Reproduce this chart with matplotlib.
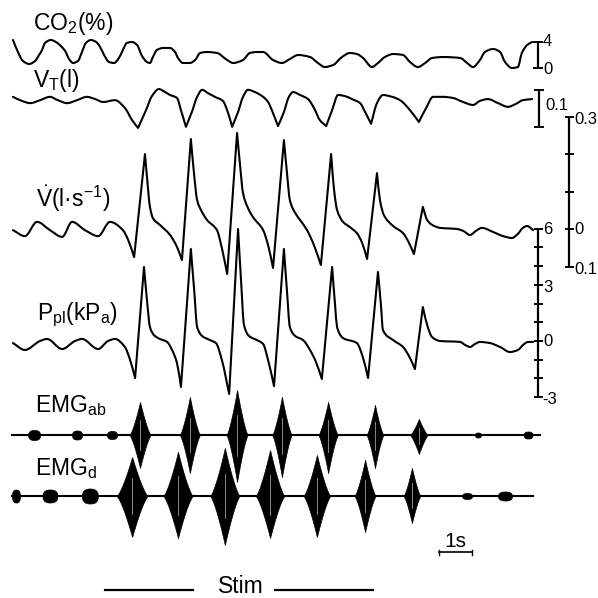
import matplotlib
matplotlib.use('Agg')
import matplotlib.pyplot as plt
from matplotlib.path import Path
from matplotlib.patches import PathPatch
import numpy as np

plt.rcParams['font.family'] = ['Liberation Sans', 'DejaVu Sans']
plt.rcParams['mathtext.fontset'] = 'custom'
plt.rcParams['mathtext.rm'] = 'Liberation Sans'
plt.rcParams['mathtext.it'] = 'Liberation Sans:italic'

# ---- data (time in s) ----
co2_t = [0.03, 0.18, 0.33, 0.52, 0.70, 0.82, 0.91, 1.00, 1.18, 1.33, 1.48, 1.61, 1.73, 1.85,
         2.00, 2.12, 2.24, 2.39, 2.55, 2.67, 2.79, 2.94, 3.09, 3.24, 3.36, 3.48, 3.64, 3.79,
         3.94, 4.09, 4.18, 4.27, 4.39, 4.58, 4.79, 4.94, 5.03, 5.18, 5.39, 5.55, 5.70, 5.91,
         6.21, 6.52, 6.70, 7.00, 7.21, 7.42, 7.61, 7.91, 8.18, 8.42, 8.67, 9.03,
         9.27, 9.48, 9.73, 10.00, 10.24, 10.45, 10.64, 10.91, 11.09, 11.30, 11.55, 11.85,
         12.06, 12.30, 12.52, 12.73, 13.06, 13.58, 13.79, 13.97, 14.18, 14.33, 14.58, 14.79,
         14.94, 15.15, 15.33, 15.45, 15.61, 15.76]
co2_pct = [4.31, 2.46, 1.08, 0.62, 1.08, 2.00, 2.77, 3.85, 4.31, 4.00, 3.38, 2.62, 1.38, 0.77,
           1.08, 2.46, 3.85, 4.31, 4.00, 3.23, 2.00, 0.92, 0.77, 1.54, 2.77, 3.85, 4.00, 3.54,
           1.85, 0.92, 0.77, 1.69, 2.77, 3.08, 3.08, 2.46, 1.54, 0.77, 0.77, 1.23, 2.31, 2.46,
           2.31, 1.23, 0.77, 1.23, 2.31, 2.46, 2.46, 1.23, 0.77, 1.38, 2.00, 1.69,
           0.77, 0.15, 0.46, 1.69, 2.31, 2.15, 1.54, 0.15, 0.77, 1.69, 2.15, 2.00,
           0.92, 0.15, 0.77, 1.54, 1.69, 1.54, 0.77, 0.15, 1.23, 2.46, 2.92, 2.46,
           0.92, 0.00, 0.15, 2.31, 3.54, 4.00]

vt_t = [0.03, 0.30, 0.55, 0.85, 1.15, 1.39, 1.67, 1.97, 2.27, 2.52, 2.76, 3.12, 3.42, 3.64,
        3.82, 4.06, 4.24, 4.45, 4.64, 4.79, 5.00, 5.12, 5.27, 5.45, 5.61, 5.76, 5.94, 6.15,
        6.39, 6.55, 6.67, 6.85, 7.00, 7.15, 7.36, 7.61, 7.76, 7.91, 8.06, 8.24, 8.39, 8.52,
        8.73, 8.97, 9.15, 9.33, 9.52, 9.70, 9.88, 10.09, 10.30, 10.55, 10.70, 10.88, 11.06,
        11.24, 11.52, 11.76, 12.06, 12.33, 12.55, 12.76, 13.06, 13.36, 13.67, 13.97, 14.18,
        14.42, 14.73, 15.03, 15.27, 15.48, 15.76]
vt_l = [-0.005, -0.016, -0.022, -0.014, -0.005, -0.014, -0.022, -0.014, -0.005, -0.011,
        -0.019, -0.014, -0.035, -0.068, -0.089, -0.041, -0.003, 0.016, 0.008, 0.000,
        -0.008, -0.041, -0.086, -0.046, -0.005, 0.014, 0.005, -0.005, -0.016, -0.049,
        -0.086, -0.046, -0.005, 0.014, 0.008, -0.005, -0.019, -0.049, -0.084, -0.046,
        -0.005, 0.008, 0.000, -0.011, -0.035, -0.068, -0.084, -0.041, 0.000, -0.003,
        -0.011, -0.022, -0.046, -0.078, -0.022, 0.000, -0.005, -0.014, -0.041, -0.073,
        -0.035, -0.005, -0.005, -0.008, -0.019, -0.027, -0.016, -0.011, -0.022, -0.032,
        -0.024, -0.014, -0.011]

flow_t = [0.03, 0.39, 0.76, 1.15, 1.52, 1.82, 2.21, 2.61, 2.97, 3.36, 3.52, 3.70, 4.03, 4.09,
          4.18, 4.27, 4.48, 4.79, 5.00, 5.15, 5.42, 5.52, 5.61, 5.76, 5.91, 6.21, 6.36, 6.52,
          6.82, 6.91, 7.00, 7.15, 7.30, 7.61, 7.76, 7.91, 8.24, 8.33, 8.42, 8.58, 8.73, 8.94,
          9.15, 9.36, 9.67, 9.76, 9.85, 10.03, 10.24, 10.45, 10.61, 10.76, 11.06, 11.15, 11.27,
          11.55, 11.85, 12.03, 12.18, 12.45, 12.58, 12.73, 12.97, 13.48, 13.67, 13.88, 14.06,
          14.24, 14.58, 14.88, 15.15, 15.33, 15.48, 15.61, 15.79]
flow_ls = [-0.003, -0.019, 0.019, -0.003, -0.021, 0.019, -0.003, -0.019, 0.019, -0.003,
           -0.029, -0.075, 0.200, 0.139, 0.059, 0.029, 0.011, -0.016, -0.048, -0.083, 0.240,
           0.144, 0.077, 0.045, 0.024, -0.003, -0.051, -0.120, 0.256, 0.171, 0.096, 0.056,
           0.032, -0.003, -0.043, -0.104, 0.237, 0.152, 0.077, 0.043, 0.024, -0.003, -0.043,
           -0.096, 0.200, 0.104, 0.051, 0.019, 0.005, -0.011, -0.037, -0.080, 0.149, 0.077,
           0.037, 0.008, -0.011, -0.037, -0.067, 0.059, 0.024, 0.011, 0.003, 0.000, -0.005,
           -0.016, -0.005, 0.003, -0.008, -0.019, -0.024, -0.013, 0.003, 0.008, -0.003]

ppl_t = [0.03, 0.39, 0.85, 1.06, 1.52, 1.91, 2.12, 2.61, 2.91, 3.12, 3.42, 3.58, 3.73, 4.00,
         4.09, 4.18, 4.30, 4.48, 4.70, 4.85, 5.00, 5.12, 5.42, 5.52, 5.61, 5.76, 6.00, 6.18,
         6.36, 6.58, 6.85, 6.94, 7.03, 7.18, 7.42, 7.61, 7.76, 7.94, 8.24, 8.33, 8.42, 8.58,
         8.82, 9.03, 9.21, 9.39, 9.70, 9.79, 9.85, 10.03, 10.45, 10.64, 10.79, 11.09, 11.18,
         11.24, 11.55, 11.85, 12.06, 12.21, 12.45, 12.58, 12.73, 12.97, 13.58, 13.73, 13.88,
         14.03, 14.18, 14.48, 14.79, 15.09, 15.33, 15.52, 15.64, 15.79]
ppl_kpa = [-0.11, -0.48, 0.00, 0.11, -0.43, 0.00, 0.11, -0.43, 0.00, 0.11, -0.32, -1.02,
           -1.98, 3.96, 2.19, 0.75, 0.32, 0.11, -0.05, -0.48, -1.18, -2.46, 4.92, 2.73,
           0.75, 0.27, 0.05, -0.11, -1.02, -2.83, 5.99, 3.26, 0.86, 0.27, 0.05, -0.16,
           -1.02, -2.41, 4.92, 2.73, 0.75, 0.27, 0.05, -0.48, -1.12, -2.03, 3.96, 1.93,
           0.75, 0.16, -0.11, -0.91, -1.98, 3.69, 1.93, 0.59, 0.05, -0.32, -0.91, -1.50,
           1.82, 0.86, 0.21, 0.00, -0.05, -0.21, -0.32, -0.16, -0.05, -0.11, -0.32, -0.59,
           -0.48, -0.16, -0.05, -0.05]

# EMG bursts: centre (s), width (s), amplitude up / down (a.u.)
ab_c = [3.88, 5.39, 6.82, 8.18, 9.58, 11.00, 12.33]
ab_w = [0.65, 0.62, 0.65, 0.60, 0.60, 0.52, 0.55]
ab_up = [3.3, 3.8, 4.5, 3.8, 3.3, 3.0, 1.6]
ab_dn = [3.3, 3.8, 4.7, 4.2, 3.8, 3.3, 1.9]
ab_dot_c = [0.67, 1.97, 3.03, 14.12, 15.64]
ab_dot_w = [0.36, 0.30, 0.30, 0.18, 0.27]
ab_dot_h = [0.50, 0.45, 0.40, 0.25, 0.35]

d_c = [3.64, 5.03, 6.45, 7.82, 9.24, 10.70, 12.12]
d_w = [0.95, 0.90, 0.90, 0.88, 0.82, 0.65, 0.52]
d_up = [3.9, 4.4, 4.8, 4.6, 4.1, 3.6, 2.8]
d_dn = [4.1, 4.2, 4.9, 4.2, 4.1, 3.6, 2.7]
d_dot_c = [0.12, 1.15, 2.36, 13.79, 14.94]
d_dot_w = [0.24, 0.45, 0.48, 0.30, 0.42]
d_dot_h = [0.65, 0.65, 0.75, 0.30, 0.45]

# ---- layout (pixels of the 598 x 598 picture) ----
W = H = 598
PX_S = 33.0      # px per second
T0 = 12.0        # px of t = 0
LW = 1.5

fig = plt.figure(figsize=(5.98, 5.98), dpi=100)


def fxy(x, y):
    return x / W, 1 - y / H


def px_t(x):
    return (x - T0) / PX_S


def trace_axes(name, zero_px, px_per_unit):
    ax = fig.add_axes([0, 0, 1, 1], label=name)
    ax.set_xlim(px_t(0), px_t(W))
    ax.set_ylim((zero_px - H) / px_per_unit, zero_px / px_per_unit)
    ax.axis('off')
    return ax


def smooth_path(x, y, sy):
    # bezier path through the points; sharp turns are kept as corners
    x = np.asarray(x, float)
    y = np.asarray(y, float)
    h = np.diff(x)
    d = np.diff(y) / h
    n = len(x)
    ml = np.zeros(n)
    mr = np.zeros(n)
    ml[0] = mr[0] = d[0]
    ml[-1] = mr[-1] = d[-1]
    for i in range(1, n - 1):
        a = np.array([-h[i - 1] * PX_S, -(y[i] - y[i - 1]) * sy])
        b = np.array([h[i] * PX_S, (y[i + 1] - y[i]) * sy])
        cosang = a @ b / (np.linalg.norm(a) * np.linalg.norm(b))
        if cosang > 0.3:
            ml[i], mr[i] = d[i - 1], d[i]
        elif d[i - 1] * d[i] > 0:
            w1 = 2 * h[i] + h[i - 1]
            w2 = h[i] + 2 * h[i - 1]
            ml[i] = mr[i] = (w1 + w2) / (w1 / d[i - 1] + w2 / d[i])
    verts = [(x[0], y[0])]
    codes = [Path.MOVETO]
    for i in range(n - 1):
        verts += [(x[i] + h[i] / 3, y[i] + mr[i] * h[i] / 3),
                  (x[i + 1] - h[i] / 3, y[i + 1] - ml[i + 1] * h[i] / 3),
                  (x[i + 1], y[i + 1])]
        codes += [Path.CURVE4] * 3
    return Path(verts, codes)


def vbar(ax, x_px, lo, hi, ticks=(), half=4):
    xt = px_t(x_px)
    dx = half / PX_S
    ax.plot([xt, xt], [lo, hi], color='k', lw=1.6, solid_capstyle='butt')
    for v in [lo, hi] + list(ticks):
        ax.plot([xt - dx, xt + dx], [v, v], color='k', lw=1.4)


ax_co2 = trace_axes('co2', 68, 6.5)
ax_vt = trace_axes('vt', 95, 370)
ax_fl = trace_axes('flow', 229, 375)
ax_pp = trace_axes('ppl', 341, 18.7)
ax_ab = trace_axes('ab', 435, 10)
ax_d = trace_axes('d', 496, 10)

for ax, t, v, sy in [(ax_co2, co2_t, co2_pct, 6.5), (ax_vt, vt_t, vt_l, 370),
                     (ax_fl, flow_t, flow_ls, 375), (ax_pp, ppl_t, ppl_kpa, 18.7)]:
    ax.add_patch(PathPatch(smooth_path(t, v, sy), fill=False, edgecolor='k',
                           lw=LW, joinstyle='round', capstyle='round'))

# EMG traces
tt = np.linspace(px_t(0), px_t(W), 5000)


def draw_emg(ax, x_end, cs, ws, ups, dns, dcs, dws, dhs):
    ax.plot([px_t(12), px_t(x_end)], [0, 0], color='k', lw=1.5)
    for c, w, u, d in zip(cs, ws, ups, dns):
        env = np.clip(1 - np.abs(tt - c) / (w / 2), 0, None) ** 1.35
        m = env > 0
        ax.fill_between(tt[m], -d * env[m], u * env[m], color='k', lw=0.5)
        ax.plot([c, c], [-0.45 * d, 0.45 * u], color='#a0a0a0', lw=0.6)
    for c, w, h in zip(dcs, dws, dhs):
        r = np.clip(1 - np.abs((tt - c) / (w / 2)) ** 2.5, 0, None) ** 0.4
        m = r > 0
        ax.fill_between(tt[m], -h * r[m], h * r[m], color='k', lw=0.5)


draw_emg(ax_ab, 540, ab_c, ab_w, ab_up, ab_dn, ab_dot_c, ab_dot_w, ab_dot_h)
draw_emg(ax_d, 533, d_c, d_w, d_up, d_dn, d_dot_c, d_dot_w, d_dot_h)

# scale bars
vbar(ax_co2, 538, 0, 4)
vbar(ax_vt, 539, (95 - 127) / 370, (95 - 127) / 370 + 0.1)
vbar(ax_fl, 569, -0.1, 0.3, ticks=[0.0, 0.1, 0.2], half=3.5)
vbar(ax_pp, 538, -3, 6, ticks=range(-2, 6), half=3.5)

# 1 s bar
ax_d.plot([px_t(439), px_t(439) + 1], [-5.6, -5.6], color='k', lw=1.2)
for xe in [px_t(439), px_t(439) + 1]:
    ax_d.plot([xe, xe], [-5.35, -5.85], color='k', lw=1.0)
fig.text(*fxy(455, 547), '1s', fontsize=15, ha='center', va='baseline')

# stim bar
fig.add_artist(plt.Line2D([105 / W, 193 / W], [1 - 590 / H] * 2, color='k', lw=1.6))
fig.add_artist(plt.Line2D([275 / W, 373 / W], [1 - 590 / H] * 2, color='k', lw=1.6))
fig.text(*fxy(241, 593), 'Stim', fontsize=16.5, ha='center', va='baseline')

# trace labels
lab = dict(fontsize=16.5, ha='left', va='baseline')
fig.text(*fxy(33, 30), r'CO$_{\mathrm{2}}$(%)', **lab)
fig.text(*fxy(33, 87), r'V$_{\mathrm{T}}$(l)', **lab)
fig.text(*fxy(36, 207), r'$\dot{\mathrm{V}}$(l·s$^{\mathrm{-1}}$)', **lab)
fig.text(*fxy(37, 320), r'P$_{\mathrm{pl}}$(kP$_{\mathrm{a}}$)', **lab)
fig.text(*fxy(35, 412), r'EMG$_{\mathrm{ab}}$', **lab)
fig.text(*fxy(35, 475), r'EMG$_{\mathrm{d}}$', **lab)

# scale labels
sl = dict(fontsize=12, ha='left', va='center')
fig.text(*fxy(543, 42), '4', **sl)
fig.text(*fxy(543, 69), '0', **sl)
fig.text(*fxy(545, 105), '0.1', **sl)
fig.text(*fxy(574, 120), '0.3', **sl)
fig.text(*fxy(574, 229), '0', **sl)
fig.text(*fxy(574, 270), '0.1', **sl)
fig.text(*fxy(543, 230), '6', **sl)
fig.text(*fxy(543, 287), '3', **sl)
fig.text(*fxy(543, 342), '0', **sl)
fig.text(*fxy(542, 399), '-3', **sl)

fig.savefig('out.png', dpi=100)
